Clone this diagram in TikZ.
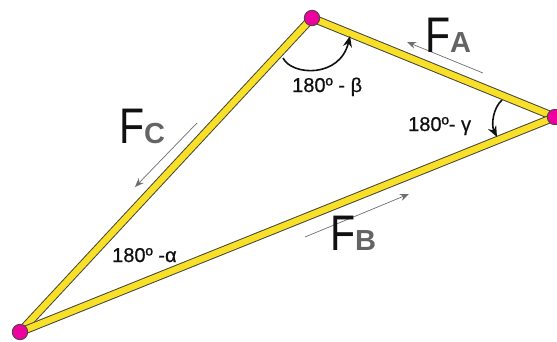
\documentclass[tikz,border=0pt]{standalone}
\usepackage{fontspec}
\usepackage{graphicx}
\setmainfont{Liberation Sans}
\usetikzlibrary{arrows.meta}
\definecolor{bar}{RGB}{248,224,40}
\definecolor{barline}{RGB}{70,70,60}
\definecolor{joint}{RGB}{236,0,160}
\definecolor{ink}{RGB}{17,17,17}
\definecolor{forcegray}{RGB}{110,110,110}
\definecolor{subgray}{RGB}{100,100,100}
\tikzset{
  member/.style={line width=1pt, draw=barline, double=bar, double distance=6.4pt, line cap=round},
  pin/.style={circle, draw=barline, line width=0.8pt, fill=joint, minimum size=15.5pt, inner sep=0pt},
  force/.style={-{Stealth[length=9pt,width=7pt]}, line width=0.7pt, draw=forcegray},
  turn/.style={-{Stealth[length=11pt,width=9pt]}, line width=1.6pt, draw=ink},
  angle/.style={font=\fontsize{20}{20}\selectfont\addfontfeature{FakeBold=0.6}, text=ink, anchor=base west, inner sep=0pt},
  flabel/.style={anchor=base west, inner sep=0pt, text=ink},
}
\newcommand{\Force}[1]{\scalebox{0.82}[1]{\fontsize{50}{50}\selectfont F}{\color{subgray}\fontsize{29}{29}\selectfont\bfseries #1}}

\begin{document}
\begin{tikzpicture}[x=1pt,y=-1pt]
  \useasboundingbox (0,0) rectangle (557,341);

  % Joints
  \coordinate (top) at (312,18);
  \coordinate (right) at (555,117);
  \coordinate (left) at (20,332);

  % Members
  \draw[member] (left) -- (top);
  \draw[member] (top) -- (right);
  \draw[member] (right) -- (left);

  \node[pin] (ptop) at (top) {};
  \node[pin] (pright) at (right) {};
  \node[pin] (pleft) at (left) {};

  % Force arrows
  \coordinate (fa0) at (483,73);
  \coordinate (fa1) at (407,42);
  \coordinate (fc0) at (197,123);
  \coordinate (fc1) at (135,187);
  \coordinate (fb0) at (305,237);
  \coordinate (fb1) at (409,194);
  \draw[force] (fa0) -- (fa1);
  \draw[force] (fc0) -- (fc1);
  \draw[force] (fb0) -- (fb1);

  \node[flabel] (fa) at (425,52) {\Force{A}};
  \node[flabel] (fc) at (119,143) {\Force{C}};
  \node[flabel] (fb) at (330,250) {\Force{B}};

  % Turning angles
  \coordinate (b0) at (283,58);
  \coordinate (b1) at (350,36);
  \coordinate (g0) at (502,100);
  \coordinate (g1) at (497,137);
  \draw[turn] (b0) .. controls (292,76) and (340,78) .. (b1);
  \draw[turn] (g0) .. controls (493,108) and (491,125) .. (g1);

  \node[angle] (beta) at (292,92) {180º - β};
  \node[angle] (gamma) at (408,131) {180º- γ};
  \node[angle] (alpha) at (112,262) {180º -α};
\end{tikzpicture}
\end{document}
